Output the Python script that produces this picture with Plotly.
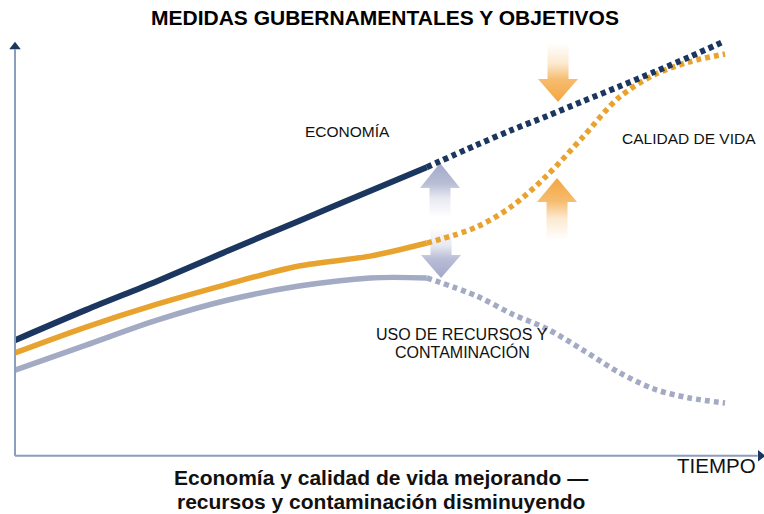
import plotly.graph_objects as go

# ---------------- data ----------------
TIME = [0, 10, 20, 30, 40, 50, 58, 65, 70, 75, 80, 85, 90, 95, 100]
ECONOMIA = [28.0, 35.4, 42.4, 49.8, 57.1, 64.4, 70.2, 75.6, 79.3, 82.7, 86.3, 89.8, 93.4, 97.1, 101.0]
CALIDAD = [24.9, 31.2, 36.8, 41.7, 46.1, 48.5, 51.7, 55.6, 60.7, 68.3, 77.6, 87.1, 92.7, 95.9, 97.8]
RECURSOS = [20.7, 26.8, 32.9, 37.8, 41.2, 43.2, 43.2, 38.8, 34.4, 30.7, 25.6, 20.2, 16.1, 13.9, 12.7]
SPLIT = 6  # index where the measured (solid) part ends and projection (dotted) starts

SERIES_NAMES = ["ECONOMÍA", "CALIDAD DE VIDA", "USO DE RECURSOS Y CONTAMINACIÓN"]
TITLE = "MEDIDAS GUBERNAMENTALES Y OBJETIVOS"
CAPTION = ["Economía y calidad de vida mejorando —", "recursos y contaminación disminuyendo"]
X_LABEL = "TIEMPO"

NAVY = "#1b365f"
ORANGE = "#e8a32f"
GRAY = "#a3aac3"
AXIS = "#8d9dbd"
FONT = "Liberation Sans, Arial, Helvetica, sans-serif"

X_RANGE = [-2.113, 105.49]
Y_RANGE = [-14.39, 110.98]

fig = go.Figure()


def add_series(vals, color, width):
    fig.add_trace(go.Scatter(x=TIME[:SPLIT + 1], y=vals[:SPLIT + 1], mode="lines",
                             line=dict(color=color, width=width, shape="spline", smoothing=0.9),
                             hoverinfo="skip", showlegend=False))
    fig.add_trace(go.Scatter(x=TIME[SPLIT:], y=vals[SPLIT:], mode="lines",
                             line=dict(color=color, width=width, shape="spline", smoothing=0.9,
                                       dash="5px,4px"),
                             hoverinfo="skip", showlegend=False))


def rgba(hexc, a):
    h = hexc.lstrip("#")
    r, g, b = int(h[0:2], 16), int(h[2:4], 16), int(h[4:6], 16)
    return f"rgba({r},{g},{b},{a})"


def add_arrow(xc, tip, base, end, color, head_hw=2.82, shaft_hw=1.48):
    xs = [xc, xc + head_hw, xc + shaft_hw, xc + shaft_hw, xc - shaft_hw, xc - shaft_hw, xc - head_hw, xc]
    ys = [tip, base, base, end, end, base, base, tip]
    if end < base:  # pointing up: fade toward the bottom
        grad = dict(type="vertical", start=end, stop=tip,
                    colorscale=[[0, rgba(color, 0)], [0.35, rgba(color, 0.25)],
                                [0.62, rgba(color, 0.75)], [1, rgba(color, 1)]])
    else:  # pointing down: fade toward the top
        grad = dict(type="vertical", start=tip, stop=end,
                    colorscale=[[0, rgba(color, 1)], [0.38, rgba(color, 0.75)],
                                [0.65, rgba(color, 0.25)], [1, rgba(color, 0)]])
    fig.add_trace(go.Scatter(x=xs, y=ys, mode="lines", fill="toself", fillgradient=grad,
                             line=dict(width=0), hoverinfo="skip", showlegend=False))


# arrows (decoration)
ARROW_GRAY = "#a2a8c8"
ARROW_ORANGE = "#f3a640"
add_arrow(59.86, 71.22, 65.12, 58.0, ARROW_GRAY)
add_arrow(60.0, 43.17, 48.78, 55.5, ARROW_GRAY)
add_arrow(76.34, 67.56, 61.71, 52.5, ARROW_ORANGE)
add_arrow(76.48, 86.10, 91.71, 100.5, ARROW_ORANGE)

add_series(RECURSOS, GRAY, 5.5)
add_series(CALIDAD, ORANGE, 5.5)
add_series(ECONOMIA, NAVY, 6)

# axes (drawn as lines with arrowheads)
fig.add_shape(type="line", x0=0, x1=0, y0=-0.2, y1=99.0, line=dict(color=AXIS, width=2))
fig.add_shape(type="line", x0=0, x1=104.6, y0=-0.2, y1=-0.2, line=dict(color=AXIS, width=2))
fig.add_trace(go.Scatter(x=[0], y=[99.6], mode="markers", cliponaxis=False,
                         marker=dict(symbol="triangle-up", size=10, color=NAVY),
                         hoverinfo="skip", showlegend=False))
fig.add_trace(go.Scatter(x=[105.0], y=[-0.2], mode="markers", cliponaxis=False,
                         marker=dict(symbol="triangle-right", size=10, color=NAVY),
                         hoverinfo="skip", showlegend=False))

# texts
ann = [
    dict(x=52.1, y=106.6, text=f"<b>{TITLE}</b>", font=dict(size=21, color="#000")),
    dict(x=51.55, y=-5.37, text=f"<b>{CAPTION[0]}</b>", font=dict(size=21, color="#111")),
    dict(x=51.55, y=-11.22, text=f"<b>{CAPTION[1]}</b>", font=dict(size=21, color="#111")),
    dict(x=98.73, y=-2.68, text=X_LABEL, font=dict(size=20.5, color="#111")),
    dict(x=46.76, y=79.0, text=SERIES_NAMES[0], font=dict(size=15.5, color="#111")),
    dict(x=94.93, y=77.3, text=SERIES_NAMES[1], font=dict(size=15.5, color="#111")),
    dict(x=62.96, y=29.3, text="USO DE RECURSOS Y", font=dict(size=16, color="#111")),
    dict(x=62.96, y=25.1, text="CONTAMINACIÓN", font=dict(size=16, color="#111")),
]
for a in ann:
    a.update(xref="x", yref="y", showarrow=False, xanchor="center", yanchor="middle", borderpad=0)
    a["font"]["family"] = FONT
fig.update_layout(annotations=ann)

fig.update_layout(
    width=764, height=514,
    margin=dict(l=0, r=0, t=0, b=0),
    paper_bgcolor="white", plot_bgcolor="white",
    xaxis=dict(range=X_RANGE, visible=False, fixedrange=True),
    yaxis=dict(range=Y_RANGE, visible=False, fixedrange=True),
    showlegend=False,
)

fig.write_html("out.html", config={"displayModeBar": False},
               post_script="document.body.style.margin='0';document.body.style.overflow='hidden';")
